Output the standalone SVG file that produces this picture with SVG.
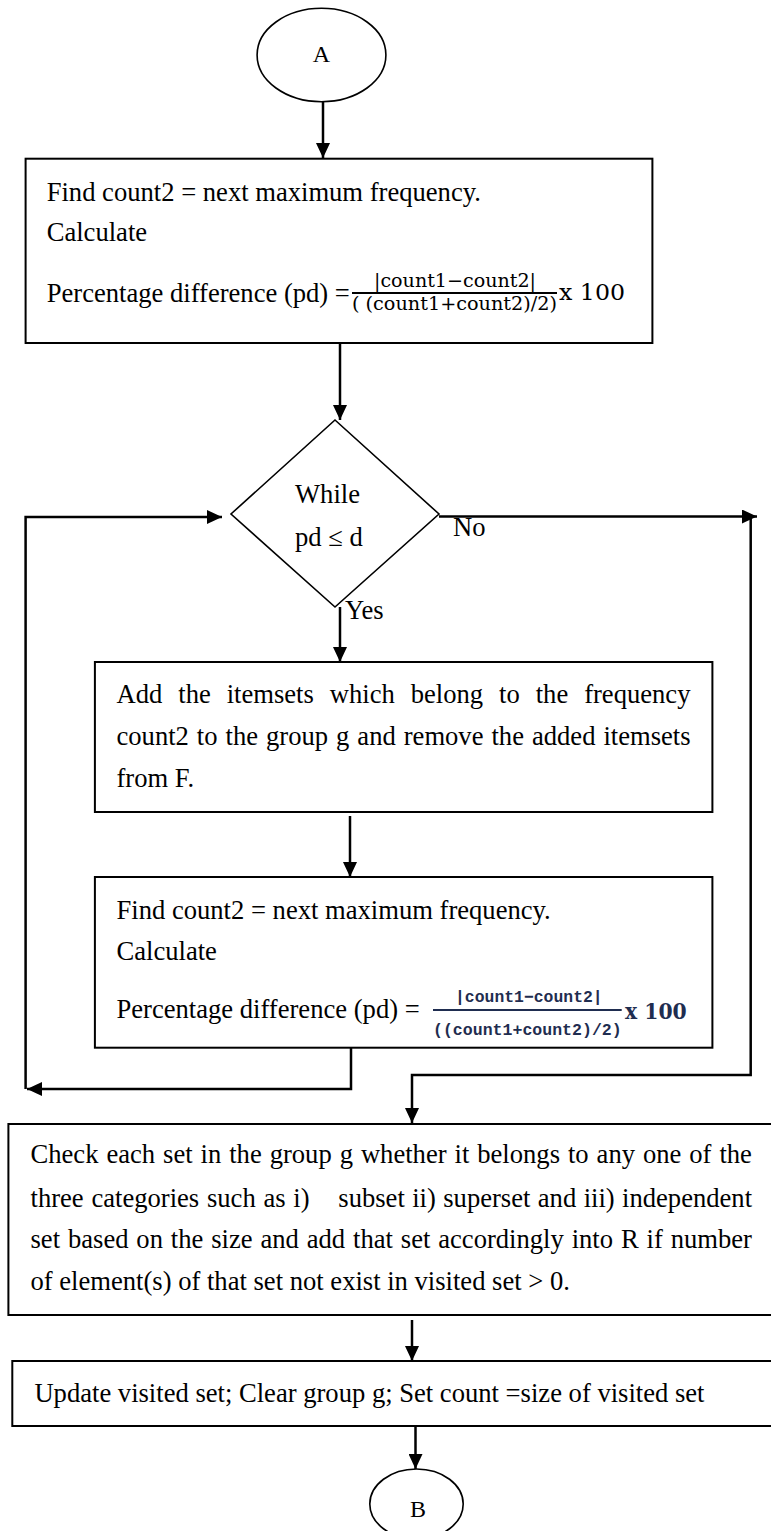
<svg xmlns="http://www.w3.org/2000/svg" width="771" height="1531" viewBox="0 0 771 1531">
<style>
.t{font-family:"Liberation Serif","Times New Roman",serif;font-size:26.6px;fill:#000}
.lbl{font-family:"Liberation Serif","Times New Roman",serif;font-size:24px;fill:#000}
.box{fill:#fff;stroke:#000;stroke-width:2}
.shape{fill:#fff;stroke:#000;stroke-width:1.6}
.conn{fill:none;stroke:#000;stroke-width:2.5}
.fr1{font-family:"DejaVu Serif",serif;font-size:19px;fill:#000}
.fr2{font-family:"Liberation Mono","Courier New",monospace;font-weight:bold;font-size:16.5px;fill:#1f2d50}
</style>
<defs>
<marker id="ah" markerUnits="userSpaceOnUse" markerWidth="16" markerHeight="14" refX="15" refY="7" orient="auto">
<path d="M0,0 L15,7 L0,14 Z" fill="#000"/>
</marker>
</defs>
<rect width="771" height="1531" fill="#fff"/>

<g id="connectors">
<line class="conn" x1="323" y1="102" x2="323" y2="158" marker-end="url(#ah)"/>
<line class="conn" x1="340" y1="343" x2="340" y2="420" marker-end="url(#ah)"/>
<line class="conn" x1="340" y1="607" x2="340" y2="662" marker-end="url(#ah)"/>
<line class="conn" x1="350" y1="816" x2="350" y2="877" marker-end="url(#ah)"/>
<path class="conn" d="M351,1048 V1089 H27" marker-end="url(#ah)"/>
<path class="conn" d="M25.6,1089 V517 H222" marker-end="url(#ah)"/>
<line class="conn" x1="439" y1="516.5" x2="757" y2="516.5" marker-end="url(#ah)"/>
<path class="conn" d="M750.7,517 V1075 H412 V1123" marker-end="url(#ah)"/>
<line class="conn" x1="412" y1="1320" x2="412" y2="1361" marker-end="url(#ah)"/>
<line class="conn" x1="415.5" y1="1426" x2="415.5" y2="1469" marker-end="url(#ah)"/>
<text class="t" x="453" y="536">No</text>
<text class="t" x="345" y="619">Yes</text>
</g>

<g id="nodeA">
<ellipse class="shape" cx="321.5" cy="55" rx="64.4" ry="46.7"/>
<text class="lbl" x="321.5" y="62" text-anchor="middle">A</text>
</g>

<g id="box1">
<rect class="box" x="25.6" y="158.7" width="626.8" height="184.3"/>
<text class="t" x="46.7" y="201">Find count2 = next maximum frequency.</text>
<text class="t" x="46.7" y="241">Calculate</text>
<text class="t" x="46.7" y="302">Percentage difference (pd) =</text>
<text class="fr1" x="374" y="287" textLength="162" lengthAdjust="spacingAndGlyphs">|count1−count2|</text>
<line x1="352" y1="293" x2="557" y2="293" stroke="#000" stroke-width="1.8"/>
<text class="fr1" x="352" y="310" textLength="205" lengthAdjust="spacingAndGlyphs">( (count1+count2)/2)</text>
<text class="fr1" x="559" y="300" style="font-size:23px" textLength="66" lengthAdjust="spacingAndGlyphs">x 100</text>
</g>

<g id="decision">
<polygon class="shape" points="335,420 439,514 335,607 231,514"/>
<text class="t" x="295" y="503">While</text>
<text class="t" x="295" y="546">pd ≤ d</text>
</g>

<g id="box2">
<rect class="box" x="94.9" y="662" width="617.5" height="150"/>
<text class="t" x="116.5" y="703" word-spacing="9.3">Add the itemsets which belong to the frequency</text>
<text class="t" x="116.5" y="745" word-spacing="1.34">count2 to the group g and remove the added itemsets</text>
<text class="t" x="116.5" y="787">from F.</text>
</g>

<g id="box3">
<rect class="box" x="94.9" y="877" width="617.5" height="170.7"/>
<text class="t" x="116.5" y="919">Find count2 = next maximum frequency.</text>
<text class="t" x="116.5" y="960">Calculate</text>
<text class="t" x="116.5" y="1018">Percentage difference (pd) =</text>
<text class="fr2" x="455" y="1002" textLength="147.7" lengthAdjust="spacingAndGlyphs">|count1−count2|</text>
<line x1="433" y1="1010" x2="621.7" y2="1010" stroke="#1f2d50" stroke-width="1.8"/>
<text class="fr2" x="433" y="1035" textLength="188.7" lengthAdjust="spacingAndGlyphs">((count1+count2)/2)</text>
<text x="625" y="1019" style="font-family:'DejaVu Serif',serif;font-weight:bold;font-size:22px;fill:#1f2d50" textLength="61.7" lengthAdjust="spacingAndGlyphs">x 100</text>
</g>

<g id="box4">
<rect class="box" x="8.4" y="1124" width="775" height="191"/>
<text class="t" x="30.5" y="1163" word-spacing="1.31">Check each set in the group g whether it belongs to any one of the</text>
<text class="t" x="30.5" y="1207" word-spacing="1.1">three categories such as i)</text>
<text class="t" x="338.3" y="1207" word-spacing="0.77">subset ii) superset and iii) independent</text>
<text class="t" x="30.5" y="1248" word-spacing="1.24">set based on the size and add that set accordingly into R if number</text>
<text class="t" x="30.5" y="1290">of element(s) of that set not exist in visited set &gt; 0.</text>
</g>

<g id="box5">
<rect class="box" x="12.3" y="1361" width="775" height="65"/>
<text class="t" x="34.4" y="1402">Update visited set; Clear group g; Set count =size of visited set</text>
</g>

<g id="nodeB">
<ellipse class="shape" cx="416.5" cy="1504" rx="46.7" ry="35"/>
<text class="lbl" x="418" y="1517" text-anchor="middle">B</text>
</g>
</svg>
